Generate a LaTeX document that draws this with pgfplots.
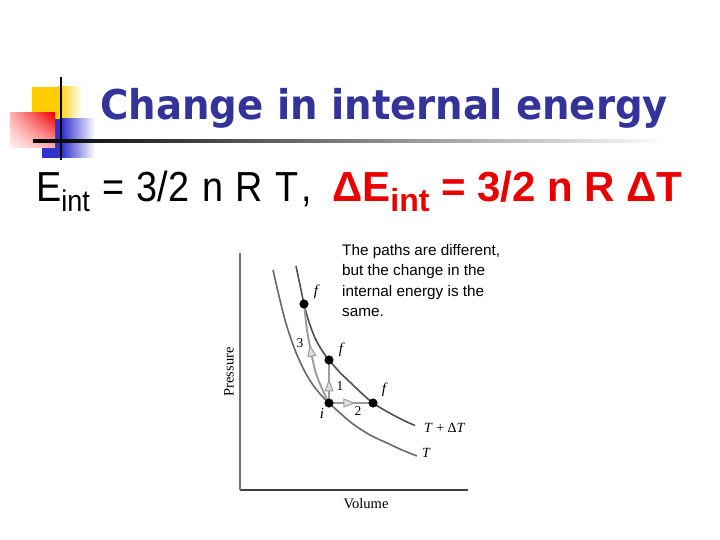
\documentclass[border=0pt]{standalone}
\usepackage{pgfplots}
\pgfplotsset{compat=1.18}
\usepackage{fontspec}
\setmainfont{Liberation Sans}
\newfontfamily\titlefont[FakeStretch=0.943]{DejaVu Sans}
\newfontfamily\narrowfont[FakeStretch=0.9]{Liberation Sans}
\newfontfamily\seriffont{Liberation Serif}
\usetikzlibrary{decorations.markings,arrows.meta,shadings}
\definecolor{titleblue}{RGB}{51,51,153}
\definecolor{eqred}{RGB}{235,0,0}
\definecolor{decoyellow}{RGB}{255,204,0}
\definecolor{decoblue}{RGB}{51,51,204}
\definecolor{decored}{RGB}{240,0,0}
\definecolor{curveA}{RGB}{80,80,80}
\definecolor{curveB}{RGB}{105,105,105}
\definecolor{pathgray}{RGB}{155,155,155}
\begin{document}
\begin{tikzpicture}[x=1pt,y=1pt]
\path[fill=white] (0,0) rectangle (720,540);
% slide decoration
\fill[decoyellow] (32,420) rectangle (58,453);
\shade[left color=decoyellow, right color=white] (58,420) rectangle (82,453);
\fill[decoblue] (42,382) rectangle (62,421);
\shade[left color=decoblue, right color=white] (62,382) rectangle (95,421);
\shade[upper left=red!30, upper right=decored, lower left=red!5, lower right=red!30] (10,392) rectangle (55,427);
\shade[left color=black, middle color=black!55, right color=white] (33,397.8) rectangle (670,400.2);
\fill[black] (60,380) rectangle (62,463);
% title
\node[anchor=base west, inner sep=0, text=titleblue, font=\titlefont\bfseries\fontsize{41}{41}\selectfont] at (100,420) {Change in internal energy};
% equation
\node[anchor=base west, inner sep=0, font=\narrowfont\fontsize{42}{42}\selectfont] at (36,338) {\spaceskip=12.5pt E\raisebox{-10pt}{\fontsize{30}{30}\selectfont int} = 3/2 n R T\hspace{3pt},};
\node[anchor=base west, inner sep=0, text=eqred, font=\bfseries\fontsize{42}{42}\selectfont] at (332,338) {ΔE\raisebox{-10pt}{\fontsize{32}{32}\selectfont int} = 3/2 n R ΔT};
% caption
\node[anchor=north west, align=left, inner sep=0, font=\fontsize{15.3}{20.5}\selectfont] at (342,296) {The paths are different,\\but the change in the\\internal energy is the\\same.};
\node[rotate=90, font=\seriffont\fontsize{14.5}{14.5}\selectfont] at (229,168) {Pressure};
\node[font=\seriffont\fontsize{14.5}{14.5}\selectfont] at (366,36) {Volume};
\begin{axis}[at={(240pt,50pt)}, anchor=south west, width=228pt, height=237pt, scale only axis,
  xmin=0, xmax=228, ymin=0, ymax=237, clip=false,
  axis x line=bottom, axis y line=left, axis line style={-},
  x axis line style={black!75, line width=1.3pt},
  y axis line style={black!55, line width=1.3pt},
  xtick=\empty, ytick=\empty]
% isotherm T
\addplot[smooth, draw=curveB, line width=1.6pt] coordinates {
(33,220) (39,194) (45,170) (51,151) (57,135) (65,118) (73,105) (81,95) (89,87)
(100,77) (113,66) (130,55) (147,47) (162,40) (177,34)};
% isotherm T + dT
\addplot[smooth, draw=curveA, line width=1.6pt] coordinates {
(56,224) (60,205) (64,186) (69,168) (75,152) (82,139.5) (89,130) (100,117.5)
(113,105) (123,95.5) (133,87) (145,79.5) (157,73) (167,68) (175,64.5)};
% path 1 (constant volume)
\addplot[draw=pathgray, line width=1.9pt, postaction={decorate},
  decoration={markings, mark=at position 0.55 with {\arrow{Triangle[open, fill=black!12, line width=1pt, length=12pt, width=9pt]}}}]
  coordinates {(89,87) (89,130)};
% path 2 (constant pressure)
\addplot[draw=pathgray, line width=1.9pt, postaction={decorate},
  decoration={markings, mark=at position 0.6 with {\arrow{Triangle[open, fill=black!12, line width=1pt, length=12pt, width=9pt]}}}]
  coordinates {(89,87) (133,87)};
% path 3
\addplot[smooth, draw=pathgray, line width=1.9pt, postaction={decorate},
  decoration={markings, mark=at position 0.6 with {\arrow{Triangle[open, fill=black!12, line width=1pt, length=12pt, width=9pt]}}}]
  coordinates {(89,87) (85,95) (80,106) (75,120) (70.7,140) (67,160) (64,186)};
% states
\addplot[only marks, mark=*, mark size=4.3pt, black] coordinates {(89,87) (89,130) (133,87) (64,186)};
% labels
\node[font=\seriffont\itshape\fontsize{15}{15}\selectfont] at (axis cs:76,198) {f};
\node[font=\seriffont\itshape\fontsize{15}{15}\selectfont] at (axis cs:101,140) {f};
\node[font=\seriffont\itshape\fontsize{15}{15}\selectfont] at (axis cs:144,100) {f};
\node[font=\seriffont\itshape\fontsize{15}{15}\selectfont] at (axis cs:82,76) {i};
\node[font=\seriffont\fontsize{13.5}{13.5}\selectfont] at (axis cs:60,147) {3};
\node[font=\seriffont\fontsize{13.5}{13.5}\selectfont] at (axis cs:100,104) {1};
\node[font=\seriffont\fontsize{13.5}{13.5}\selectfont] at (axis cs:118,79) {2};
\node[anchor=west, inner sep=0, font=\seriffont\fontsize{14}{14}\selectfont] at (axis cs:184,62) {\textit{T} + Δ\textit{T}};
\node[anchor=west, inner sep=0, font=\seriffont\fontsize{14}{14}\selectfont] at (axis cs:182,37) {\textit{T}};
\end{axis}
\end{tikzpicture}
\end{document}
